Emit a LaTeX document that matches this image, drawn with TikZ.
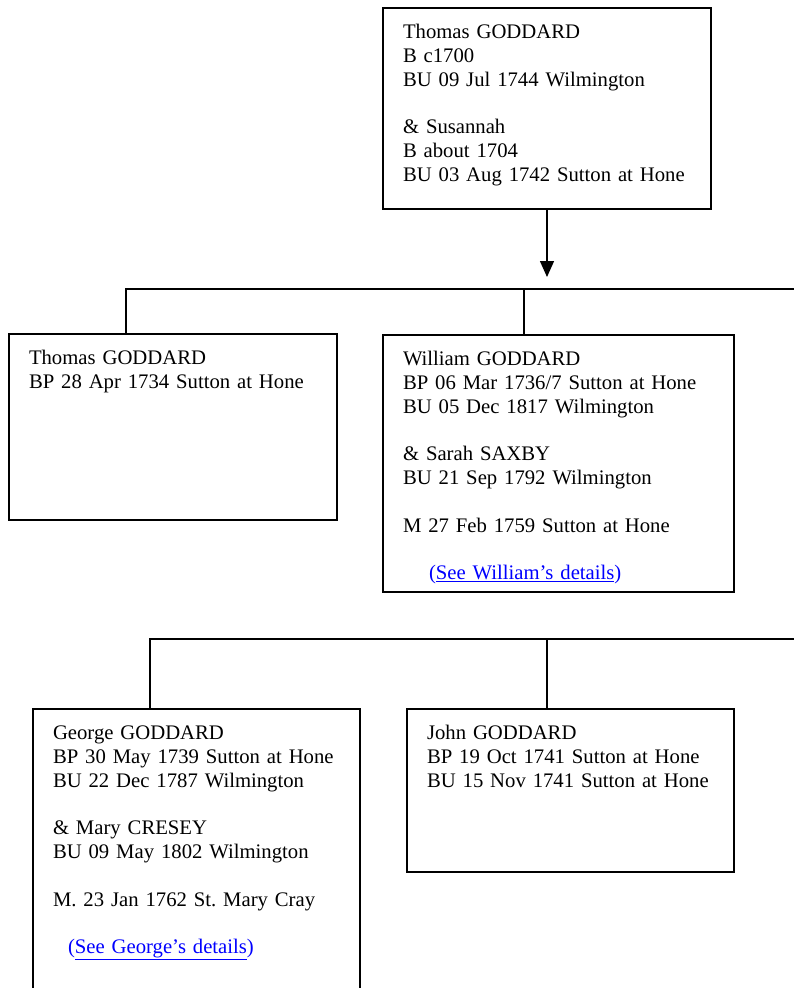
\documentclass[tikz,border=0pt]{standalone}
\usepackage{fontspec}
\setmainfont{Liberation Serif}
\usepackage{xcolor}
\usetikzlibrary{arrows.meta}

\newcommand{\famlink}[1]{\textcolor{blue}{(\underline{#1})}}

\begin{document}
\begin{tikzpicture}[x=1pt, y=-1pt, line width=1.4pt,
    famBox/.style={draw, rectangle, anchor=north west, outer sep=0pt,
        inner xsep=20pt, inner ysep=0pt, align=left, text height=30.5pt,
        font=\fontsize{20.7}{23.8}\selectfont\frenchspacing}]
    \useasboundingbox (0,0) rectangle (794,988);

    % parents
    \node[famBox, text width=288pt, text depth=170.5pt] (P0) at (383,8)
        {Thomas GODDARD\\ B c1700\\ BU 09 Jul 1744 Wilmington\\[23.8pt]
         \& Susannah\\ B about 1704\\ BU 03 Aug 1742 Sutton at Hone};

    % children
    \node[famBox, text width=288pt, text depth=155.5pt] (C1) at (9,334)
        {Thomas GODDARD\\ BP 28 Apr 1734 Sutton at Hone};
    \node[famBox, text width=311pt, text depth=226.5pt] (C2) at (383,335)
        {William GODDARD\\ BP 06 Mar 1736/7 Sutton at Hone\\ BU 05 Dec 1817 Wilmington\\[23.8pt]
         \& Sarah SAXBY\\ BU 21 Sep 1792 Wilmington\\[23.8pt]
         M 27 Feb 1759 Sutton at Hone\\[23.8pt]
         \hspace*{26pt}\famlink{See William’s details}};

    % grandchildren
    \node[famBox, text width=287pt, text depth=269.5pt] (D1) at (33,709)
        {George GODDARD\\ BP 30 May 1739 Sutton at Hone\\ BU 22 Dec 1787 Wilmington\\[23.8pt]
         \& Mary CRESEY\\ BU 09 May 1802 Wilmington\\[23.8pt]
         M. 23 Jan 1762 St. Mary Cray\\[23.8pt]
         \hspace*{15pt}\famlink{See George’s details}};
    \node[famBox, text width=287pt, text depth=132.5pt] (D2) at (407,709)
        {John GODDARD\\ BP 19 Oct 1741 Sutton at Hone\\ BU 15 Nov 1741 Sutton at Hone};

    % connectors
    \coordinate (A0) at (547,277);
    \coordinate (R1) at (800,289);
    \coordinate (R2) at (800,639);
    \coordinate (C1t) at ([xshift=117pt]C1.north west);
    \coordinate (C2t) at ([xshift=141pt]C2.north west);
    \coordinate (D1t) at ([xshift=117pt]D1.north west);
    \coordinate (D2t) at ([xshift=140pt]D2.north west);

    \draw[-{Triangle[length=16pt, width=14pt]}] (P0.south) -- (A0);
    \draw (C1t) |- (R1);
    \draw (C2t) -- (C2t |- R1);
    \draw (D1t) |- (R2);
    \draw (D2t) -- (D2t |- R2);
\end{tikzpicture}
\end{document}
